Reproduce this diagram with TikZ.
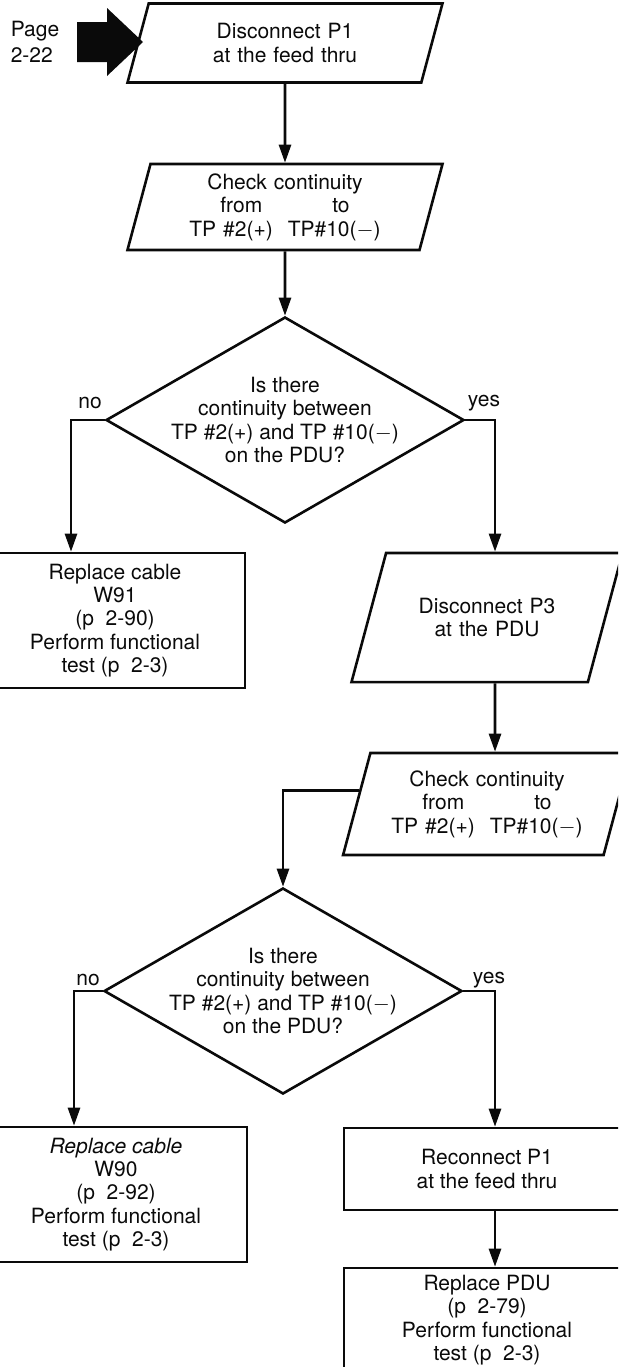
\documentclass[tikz,border=0pt]{standalone}
\usepackage{fontspec}
\setmainfont{TeX Gyre Heros}
\usetikzlibrary{arrows.meta, positioning, shapes.geometric}
\definecolor{manualInk}{HTML}{0A0A0A}

\begin{document}
\begin{tikzpicture}[
		x=0.5pt, y=-0.5pt,
		every node/.style={font=\fontsize{10.5}{11.7}\selectfont, text=manualInk},
		io/.style={trapezium, trapezium left angle=75, trapezium right angle=105, trapezium stretches=true, draw=manualInk, line width=1.3pt, align=center, inner xsep=0pt},
		box/.style={rectangle, draw=manualInk, line width=1.3pt, align=center, inner sep=0pt},
		ask/.style={diamond, aspect=1.75, draw=manualInk, line width=1.3pt, align=center, inner sep=-3pt, minimum width=179pt, minimum height=103pt},
		arrow/.style={-{Triangle[length=9pt, width=6pt]}, line width=1.3pt, draw=manualInk}
	]
		\clip (0,0) rectangle (618,1367);

		% entry from the previous page
		\node[align=left, font=\fontsize{10.5}{13}\selectfont] (pageref) at (35,42) {Page\\2-22};
		\fill[manualInk] (77,22) -- (107,22) -- (107,8) -- (143,42) -- (107,76) -- (107,62) -- (77,62) -- cycle;

		\node[io, text width=136.3pt, inner ysep=10pt, minimum height=39.5pt] (p1) at (285,43) {Disconnect P1\\at the feed thru};
		\node[io, text width=134.5pt, inner ysep=4.75pt, minimum height=43pt] (p2) at (285,207) {Check continuity\\from\hspace{35pt}to\hspace*{8pt}\\TP \#2(+)\hspace{7.5pt}TP\#10($-$)};
		\node[ask] (d1) at (285,420) {Is there\\continuity between\\TP \#2(+) and TP \#10($-$)\\on the PDU?};
		\node (no1) at (90,403) {no};
		\node (yes1) at (484,403) {yes};

		\node[box, minimum width=130pt, minimum height=67.5pt] (w91) at (115,620.5) {Replace cable\\W91\\(p\ \ 2-90)\\Perform functional\\test (p\ \ 2-3)};
		\node[io, text width=100.9pt, inner ysep=22.5pt, minimum height=64.5pt] (p3) at (487,617.5) {Disconnect P3\\at the PDU};
		\node[io, text width=116.6pt, inner ysep=8.75pt, minimum height=51pt] (p4) at (487,804) {Check continuity\\from\hspace{35pt}to\hspace*{8pt}\\TP \#2(+)\hspace{7.5pt}TP\#10($-$)};

		\node[ask] (d2) at (283,991) {Is there\\continuity between\\TP \#2(+) and TP \#10($-$)\\on the PDU?};
		\node (no2) at (88,980) {no};
		\node (yes2) at (489,980) {yes};

		\node[box, minimum width=131pt, minimum height=67.5pt] (w90) at (116,1194.5) {\textit{Replace cable}\\W90\\(p\ \ 2-92)\\Perform functional\\test (p\ \ 2-3)};
		\node[box, minimum width=143pt, minimum height=41pt] (rec) at (487,1169) {Reconnect P1\\at the feed thru};
		\node[box, minimum width=143pt, minimum height=52pt] (pdu) at (487,1320) {Replace PDU\\(p\ \ 2-79)\\Perform functional\\test (p\ \ 2-3)};

		\draw[arrow] (p1) -- (p2);
		\draw[arrow] (p2) -- (d1);
		\draw[arrow] (d1.west) -| ([xshift=-22pt]w91.north);
		\draw[arrow] (d1.east) -| ([xshift=4pt]p3.north);
		\draw[arrow] ([xshift=4pt]p3.south) -- ([xshift=4pt]p4.north);
		\draw[arrow] (p4.174) -| (d2.north);
		\draw[arrow] (d2.west) -| ([xshift=-21pt]w90.north);
		\draw[arrow] (d2.east) -| ([xshift=4pt]rec.north);
		\draw[arrow] ([xshift=4pt]rec.south) -- ([xshift=4pt]pdu.north);
	\end{tikzpicture}
\end{document}
